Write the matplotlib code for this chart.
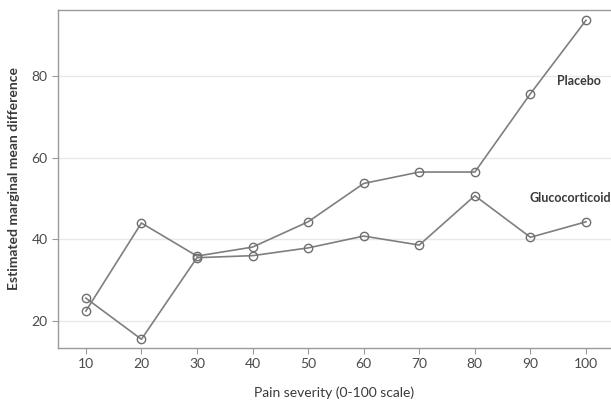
import numpy as np
import matplotlib.pyplot as plt

plt.rcParams['font.family'] = ['Lato', 'DejaVu Sans']

# Pain severity levels
severity = [10, 20, 30, 40, 50, 60, 70, 80, 90, 100]

# Estimated marginal mean difference per group
placebo = [22.4, 44.0, 35.9, 38.1, 44.3, 53.7, 56.5, 56.5, 75.7, 93.7]
glucocorticoid = [25.6, 15.5, 35.5, 36.0, 37.9, 40.8, 38.6, 50.7, 40.5, 44.3]

yticks = [20, 40, 60, 80]

line_col = '#7f7f7f'
text_col = '#3a3a3a'

fig = plt.figure(figsize=(6.11, 4.04), dpi=100)
ax = fig.add_axes([0.095, 0.139, 0.905, 0.836])

ax.plot(severity, placebo, color=line_col, lw=1.2, marker='o', ms=6,
        mfc='none', mec='#6e6e6e', mew=1.0)
ax.plot(severity, glucocorticoid, color=line_col, lw=1.2, marker='o', ms=6,
        mfc='none', mec='#6e6e6e', mew=1.0)

ax.text(94.8, 78.8, 'Placebo', fontsize=9, fontweight='bold',
        color=text_col, va='center', ha='left')
ax.text(89.8, 50.1, 'Glucocorticoid', fontsize=9, fontweight='bold',
        color=text_col, va='center', ha='left')

ax.set_xlim(5, 104.5)
ax.set_ylim(13.4, 96.2)
ax.set_xticks(severity)
ax.set_yticks(yticks)
ax.yaxis.grid(True, color='#e8e8e8', lw=1.0)
ax.set_axisbelow(True)

for s in ['left', 'bottom', 'top']:
    ax.spines[s].set_color('#9a9a9a')
    ax.spines[s].set_linewidth(1.0)
ax.spines['right'].set_visible(False)
ax.tick_params(colors='#9a9a9a', labelcolor='#4a4a4a', labelsize=10,
               length=4, width=0.8)

ax.set_xlabel('Pain severity (0-100 scale)', fontsize=10, color=text_col,
              labelpad=12)
ax.set_ylabel('Estimated marginal mean difference', fontsize=10,
              color=text_col, fontweight='bold', labelpad=8)

fig.savefig('out.png', dpi=100)
